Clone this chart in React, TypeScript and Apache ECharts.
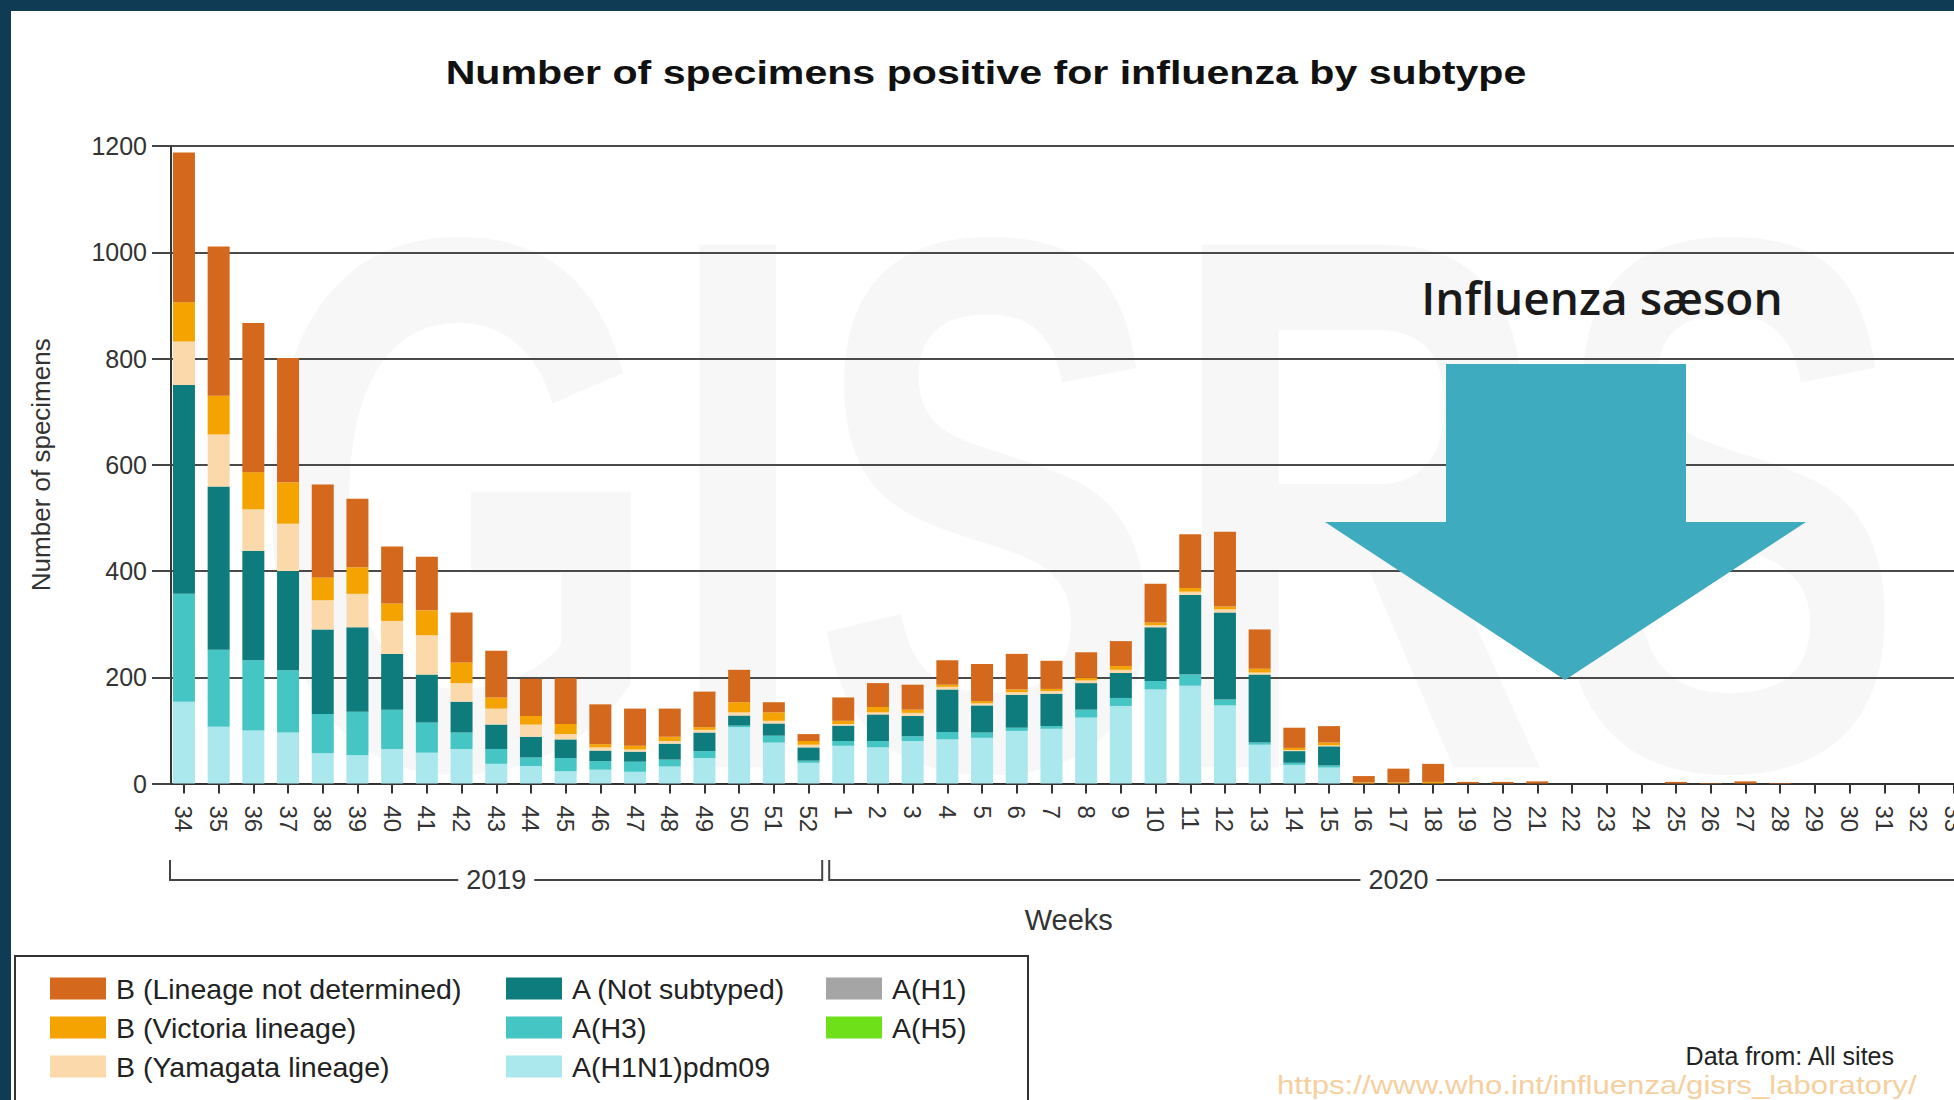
import React, { useEffect, useRef } from 'react';
import * as echarts from 'echarts';

const weeks = ['34','35','36','37','38','39','40','41','42','43','44','45','46','47','48','49','50','51','52',
  '1','2','3','4','5','6','7','8','9','10','11','12','13','14','15','16','17','18','19','20','21','22','23','24','25','26','27','28','29','30','31','32','33'];

const h1n1 = [154,107,100,96,57,53,65,58,65,37,33,23,26,22,32,48,106,77,39,
  71,68,80,83,86,99,103,124,146,177,184,147,73,35,30,0,0,0,0,0,0,0,0,0,0,0,0,0,0,0,0,0,0];
const h3 = [203,145,132,117,74,82,74,57,31,28,16,25,16,19,13,13,3,13,4,
  9,12,9,14,10,6,5,15,15,16,21,11,4,4,4,0,0,0,0,0,0,0,0,0,0,0,0,0,0,0,0,0,0];
const notSubtyped = [393,307,206,187,159,159,105,90,58,46,39,35,20,19,30,35,19,23,25,
  29,50,38,80,51,62,61,50,47,101,150,164,128,22,36,0,0,0,0,0,0,0,0,0,0,0,0,0,0,0,0,0,0];
const h1 = [0,0,0,0,0,0,0,0,0,0,0,0,0,0,0,0,0,0,0,
  0,0,0,0,0,0,0,0,0,0,0,0,0,0,0,0,0,0,0,0,0,0,0,0,0,0,0,0,0,0,0,0,0];
const h5 = [0,0,0,0,0,0,0,0,0,0,0,0,0,0,0,0,0,0,0,
  0,0,0,0,0,0,0,0,0,0,0,0,0,0,0,0,0,0,0,0,0,0,0,0,0,0,0,0,0,0,0,0,0];
const yamagata = [82,98,78,89,55,63,62,74,35,30,23,10,6,4,5,5,6,5,5,
  3,4,6,5,4,5,5,5,6,4,6,6,4,2,2,0,0,0,0,0,0,0,0,0,0,0,0,0,0,0,0,0,0];
const victoria = [74,73,70,78,43,50,33,47,39,21,16,19,6,7,8,5,19,16,7,
  6,10,6,4,4,5,4,5,7,5,7,5,7,4,5,2,2,3,0,0,0,0,0,0,0,0,0,0,0,0,0,0,0];
const lineageND = [282,281,281,234,175,129,107,101,94,88,70,86,75,70,53,67,61,19,13,
  44,45,47,46,70,67,53,48,47,73,101,141,74,38,31,12,26,34,3,3,4,0,0,0,3,1,4,1,0,0,0,0,0];

const yearLabels = ['2019', '2020'];
const yearWeekCounts = [19, 33];

const NAMES = {
  bnd: 'B (Lineage not determined)',
  vic: 'B (Victoria lineage)',
  yam: 'B (Yamagata lineage)',
  ns: 'A (Not subtyped)',
  h3: 'A(H3)',
  h1n1: 'A(H1N1)pdm09',
  h1: 'A(H1)',
  h5: 'A(H5)',
};

const seriesDefs = [
  { name: NAMES.h1n1, data: h1n1, color: '#aae8ee' },
  { name: NAMES.h3, data: h3, color: '#46c5c5' },
  { name: NAMES.ns, data: notSubtyped, color: '#0e7c7d' },
  { name: NAMES.h1, data: h1, color: '#a5a5a5' },
  { name: NAMES.h5, data: h5, color: '#6ee01a' },
  { name: NAMES.yam, data: yamagata, color: '#fbd9aa' },
  { name: NAMES.vic, data: victoria, color: '#f5a300' },
  { name: NAMES.bnd, data: lineageND, color: '#d4691e' },
];

const FONT = 'Liberation Sans';
const G_LEFT = 166.6;
const BW = 34.7;
const G_TOP = 146;
const G_HEIGHT = 637.5;
const G_WIDTH = BW * weeks.length;

function buildOption() {
  const graphics: any[] = [];
  // watermark
  graphics.push({
    type: 'text', x: 250, y: 504, z: -1, scaleX: 0.7,
    style: { text: 'GISRS', font: `bold 760px "${FONT}"`, fill: '#f7f7f7', textAlign: 'left', textVerticalAlign: 'middle' },
  });
  // frame strips
  graphics.push({ type: 'rect', z: 100, shape: { x: 0, y: 0, width: 2000, height: 11 }, style: { fill: '#103b55' } });
  graphics.push({ type: 'rect', z: 100, shape: { x: 0, y: 0, width: 11, height: 1100 }, style: { fill: '#103b55' } });
  // title
  graphics.push({
    type: 'text', x: 986, y: 72, scaleX: 1.21, z: 50,
    style: { text: 'Number of specimens positive for influenza by subtype', font: `bold 34px "${FONT}"`, fill: '#111', textAlign: 'center', textVerticalAlign: 'middle' },
  });
  // arrow
  graphics.push({
    type: 'polygon', z: 60,
    shape: { points: [[1446, 364], [1686, 364], [1686, 522], [1806, 522], [1565, 680], [1325, 522], [1446, 522]] },
    style: { fill: '#3fabbe' },
  });
  graphics.push({
    type: 'text', x: 1602, y: 297, z: 60,
    style: { text: 'Influenza sæson', font: '600 46px "Open Sans"', fill: '#1a1a1a', textAlign: 'center', textVerticalAlign: 'middle' },
  });
  // year brackets
  let start = 0;
  yearLabels.forEach((lab, i) => {
    const x1 = G_LEFT + start * BW + (i === 0 ? 3.4 : 3.3);
    const x2 = G_LEFT + (start + yearWeekCounts[i]) * BW - (i === 0 ? 3.7 : 0);
    const cx = G_LEFT + (start + yearWeekCounts[i] / 2) * BW;
    const y = 880;
    graphics.push({ type: 'polyline', z: 50, shape: { points: [[x1, 860], [x1, y], [cx - 38, y]] }, style: { stroke: '#444', lineWidth: 2, fill: null } });
    graphics.push({ type: 'polyline', z: 50, shape: { points: [[cx + 38, y], [x2, y], [x2, 860]] }, style: { stroke: '#444', lineWidth: 2, fill: null } });
    graphics.push({ type: 'text', x: cx, y: y, z: 50, style: { text: lab, font: `27px "${FONT}"`, fill: '#333', textAlign: 'center', textVerticalAlign: 'middle' } });
    start += yearWeekCounts[i];
  });
  // legend box
  graphics.push({ type: 'rect', z: 50, shape: { x: 15, y: 956, width: 1013, height: 170 }, style: { fill: null, stroke: '#333', lineWidth: 2 } });
  graphics.push({
    type: 'text', x: 1894, y: 1056, z: 50,
    style: { text: 'Data from: All sites', font: `25px "${FONT}"`, fill: '#222', textAlign: 'right', textVerticalAlign: 'middle' },
  });
  graphics.push({
    type: 'text', x: 1277, y: 1085, z: 50, scaleX: 1.2,
    style: { text: 'https://www.who.int/influenza/gisrs_laboratory/', font: `26px "${FONT}"`, fill: '#f6cf9f', textAlign: 'left', textVerticalAlign: 'middle' },
  });

  const legendBase = {
    orient: 'vertical', itemWidth: 56, itemHeight: 22, itemGap: 10, icon: 'rect', padding: 0,
    selectedMode: false,
    textStyle: { fontSize: 28.5, color: '#222', fontFamily: FONT, padding: [0, 0, 0, 5] },
  };

  return {
    animation: false,
    backgroundColor: '#ffffff',
    textStyle: { fontFamily: FONT },
    grid: { left: G_LEFT, top: G_TOP, width: G_WIDTH, height: G_HEIGHT, containLabel: false },
    legend: [
      { ...legendBase, left: 50, top: 974, data: [NAMES.bnd, NAMES.vic, NAMES.yam] },
      { ...legendBase, left: 506, top: 974, data: [NAMES.ns, NAMES.h3, NAMES.h1n1] },
      { ...legendBase, left: 826, top: 974, data: [NAMES.h1, NAMES.h5] },
    ],
    xAxis: {
      type: 'category', data: weeks,
      name: 'Weeks', nameLocation: 'middle', nameGap: 122,
      nameTextStyle: { fontSize: 29, color: '#333', fontFamily: FONT },
      axisLine: { show: true, lineStyle: { color: '#333', width: 2 } },
      axisTick: { show: true, alignWithLabel: true, length: 10, lineStyle: { color: '#333', width: 2 } },
      axisLabel: { interval: 0, rotate: -90, fontSize: 24, margin: 22, color: '#333', fontFamily: FONT },
      splitLine: { show: false },
    },
    yAxis: {
      type: 'value', min: 0, max: 1200, interval: 200, offset: -4.4,
      name: 'Number of specimens', nameLocation: 'middle', nameGap: 117,
      nameTextStyle: { fontSize: 26, color: '#333', fontFamily: FONT },
      axisLine: { show: true, lineStyle: { color: '#333', width: 2 } },
      axisTick: { show: true, length: 19, lineStyle: { color: '#444', width: 2 } },
      axisLabel: { fontSize: 25, margin: 24, color: '#333', fontFamily: FONT, formatter: (v: number) => String(v) },
      splitLine: { show: true, lineStyle: { color: '#4a4a4a', width: 2 } },
    },
    series: seriesDefs.map((s) => ({
      type: 'bar', name: s.name, stack: 'total', data: s.data, barWidth: 22,
      itemStyle: { color: s.color },
      emphasis: { disabled: true },
    })),
    graphic: graphics,
  };
}

export default function App() {
  const ref = useRef<HTMLDivElement>(null);
  useEffect(() => {
    const chart = echarts.init(ref.current as HTMLDivElement, null, { renderer: 'svg' });
    chart.setOption(buildOption() as any);
    return () => chart.dispose();
  }, []);
  return (
    <div style={{ position: 'fixed', left: 0, top: 0, width: 1954, height: 1100, overflow: 'hidden', background: '#fff' }}>
      <div ref={ref} style={{ width: 2000, height: 1100 }} />
    </div>
  );
}
